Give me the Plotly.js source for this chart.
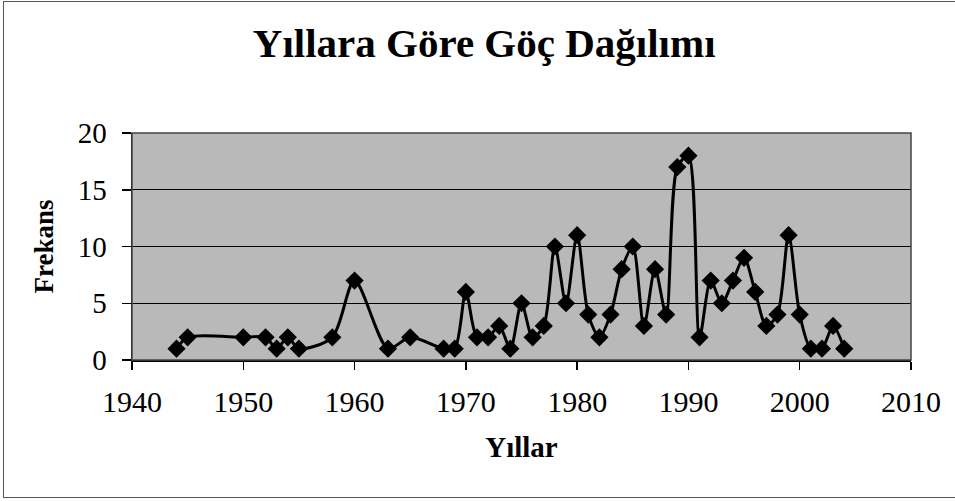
<!DOCTYPE html>
<html>
<head>
<meta charset="utf-8">
<script src="https://cdn.plot.ly/plotly-3.0.1.min.js"></script>
<style>
html,body{margin:0;padding:0;background:#fff;}
#wrap{position:relative;width:955px;height:501px;}
#chart{width:955px;height:501px;}
#frame{position:absolute;left:3px;top:1px;width:960px;height:495px;border-left:1px solid #555;border-top:1px solid #555;border-bottom:1px solid #555;pointer-events:none;}
</style>
</head>
<body>
<div id="wrap"><div id="chart"></div><div id="frame"></div></div>
<script>
const years = [1944,1945,1950,1952,1953,1954,1955,1958,1960,1963,1965,1968,1969,1970,1971,1972,1973,1974,1975,1976,1977,1978,1979,1980,1981,1982,1983,1984,1985,1986,1987,1988,1989,1990,1991,1992,1993,1994,1995,1996,1997,1998,1999,2000,2001,2002,2003,2004];
const frekans = [1,2,2,2,1,2,1,2,7,1,2,1,1,6,2,2,3,1,5,2,3,10,5,11,4,2,4,8,10,3,8,4,17,18,2,7,5,7,9,6,3,4,11,4,1,1,3,1];
const xTicks = [1940,1950,1960,1970,1980,1990,2000,2010];
const yTicks = [0,5,10,15,20];
const chartTitle = "Yıllara Göre Göç Dağılımı";
const xTitle = "Yıllar";
const yTitle = "Frekans";

const serif = "Liberation Serif, Times New Roman, serif";

Plotly.newPlot('chart', [{
  x: years, y: frekans, type: 'scatter', mode: 'lines+markers',
  line: {color: '#000', width: 3, shape: 'spline', smoothing: 0.8},
  marker: {symbol: 'diamond', size: 14, color: '#000'},
  showlegend: false, hoverinfo: 'skip'
}], {
  width: 955, height: 501,
  margin: {l: 132, r: 44, t: 133, b: 141},
  paper_bgcolor: '#fff',
  plot_bgcolor: '#b9b9b9',
  title: {text: chartTitle, font: {family: serif, size: 41, color: '#000', weight: 'bold'},
          x: 0.507, xanchor: 'center', y: 0.914, yanchor: 'middle'},
  xaxis: {
    range: [1940, 2010], tickvals: xTicks, ticktext: xTicks.map(String),
    showgrid: false, zeroline: false,
    showline: true, linecolor: '#000', linewidth: 1.5, mirror: false,
    ticks: 'outside', ticklen: 8, tickcolor: '#000', tickwidth: 1.5,
    ticklabelstandoff: 6,
    tickfont: {family: serif, size: 30, color: '#000'},
    title: {text: xTitle, font: {family: serif, size: 29, color: '#000', weight: 'bold'}, standoff: 20}
  },
  yaxis: {
    range: [0, 20], tickvals: yTicks, ticktext: yTicks.map(String),
    showgrid: true, gridcolor: '#000', gridwidth: 1, zeroline: false,
    showline: true, linecolor: '#000', linewidth: 1.5,
    ticks: 'outside', ticklen: 9, tickcolor: '#000', tickwidth: 1.5,
    ticklabelstandoff: 9,
    tickfont: {family: serif, size: 29, color: '#000'},
    title: {text: yTitle, font: {family: serif, size: 27, color: '#000', weight: 'bold'}, standoff: 16}
  },
  shapes: [{type: 'rect', xref: 'paper', yref: 'paper', x0: 0, x1: 1, y0: 0, y1: 1,
            line: {color: '#444', width: 1.5}, fillcolor: 'rgba(0,0,0,0)', layer: 'above'}]
}, {staticPlot: true});
</script>
</body>
</html>
